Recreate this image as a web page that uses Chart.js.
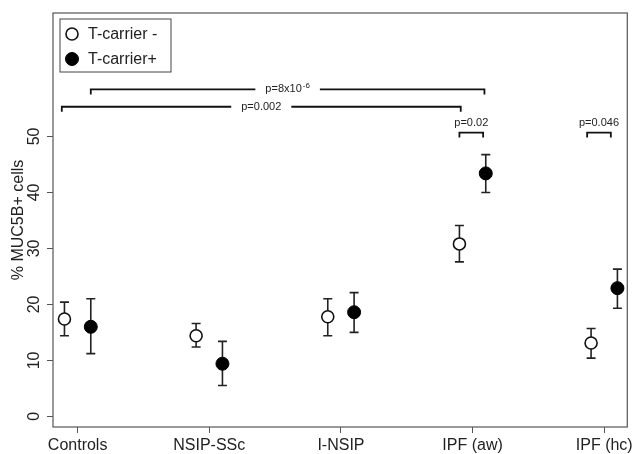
<!DOCTYPE html>
<html><head><meta charset="utf-8">
<script src="https://cdn.jsdelivr.net/npm/chart.js@4.4.0/dist/chart.umd.min.js"></script>
<style>html,body{margin:0;padding:0;background:#fff}canvas{display:block}</style>
</head><body><canvas id="c" width="636" height="454"></canvas>
<script>
const categories = ['Controls','NSIP-SSc','I-NSIP','IPF (aw)','IPF (hc)'];
const seriesNames = ['T-carrier -','T-carrier+'];
const negMean = [17.4, 14.4, 17.8, 30.8, 13.1];
const negLow  = [14.4, 12.4, 14.4, 27.6, 10.4];
const negHigh = [20.4, 16.6, 21.0, 34.1, 15.7];
const posMean = [16.0, 9.4, 18.6, 43.4, 22.9];
const posLow  = [11.2, 5.5, 15.0, 40.0, 19.3];
const posHigh = [21.0, 13.4, 22.1, 46.75, 26.3];
const yTicks = [0, 10, 20, 30, 40, 50];
const yTitle = '% MUC5B+ cells';
const bracketLabels = ['p=8x10', 'p=0.002', 'p=0.02', 'p=0.046'];
const bracketSup = ['-6', '', '', ''];
const bracketFrom = [0.1, -0.12, 2.9, 3.87];
const bracketTo = [3.09, 2.91, 3.08, 4.05];
const bracketY = [58.4, 55.3, 50.7, 50.7];

const FONT = '"Liberation Sans", Arial, sans-serif';
const INK = '#222';
const AXIS = '#555';

const errorBars = {
  id: 'errorBars',
  beforeDatasetsDraw(chart) {
    const ctx = chart.ctx, ys = chart.scales.y;
    ctx.save();
    ctx.strokeStyle = INK; ctx.lineWidth = 1.6;
    chart.data.datasets.forEach((ds, d) => {
      const meta = chart.getDatasetMeta(d);
      meta.data.forEach((pt, i) => {
        const px = pt.x;
        const y1 = ys.getPixelForValue(ds.low[i]);
        const y2 = ys.getPixelForValue(ds.high[i]);
        ctx.beginPath();
        ctx.moveTo(px, y1); ctx.lineTo(px, y2);
        ctx.moveTo(px - 4.5, y1); ctx.lineTo(px + 4.5, y1);
        ctx.moveTo(px - 4.5, y2); ctx.lineTo(px + 4.5, y2);
        ctx.stroke();
      });
    });
    ctx.restore();
  }
};

const decorations = {
  id: 'decorations',
  afterDraw(chart) {
    const ctx = chart.ctx, a = chart.chartArea, xs = chart.scales.x, ys = chart.scales.y;
    ctx.save();
    // frame
    ctx.strokeStyle = AXIS; ctx.lineWidth = 1.2;
    ctx.strokeRect(a.left, a.top, a.right - a.left, a.bottom - a.top);
    // y tick labels (rotated like R)
    ctx.fillStyle = INK;
    ctx.font = '16px ' + FONT;
    ctx.textAlign = 'center'; ctx.textBaseline = 'alphabetic';
    ys.ticks.forEach(t => {
      const py = ys.getPixelForValue(t.value);
      ctx.save();
      ctx.translate(a.left - 14.5, py);
      ctx.rotate(-Math.PI / 2);
      ctx.fillText(String(t.value), 0, 0);
      ctx.restore();
    });
    // legend
    const lx = a.left + 7, ly = a.top + 6;
    ctx.strokeStyle = '#444'; ctx.lineWidth = 1;
    ctx.strokeRect(lx, ly, 111, 53);
    chart.data.datasets.forEach((ds, d) => {
      const cy = ly + 15 + d * 25;
      ctx.beginPath();
      ctx.arc(lx + 12, cy, ds.pointRadius, 0, Math.PI * 2);
      ctx.fillStyle = ds.backgroundColor; ctx.fill();
      ctx.strokeStyle = ds.borderColor; ctx.lineWidth = ds.borderWidth; ctx.stroke();
      ctx.fillStyle = INK; ctx.font = '16px ' + FONT;
      ctx.textAlign = 'left'; ctx.textBaseline = 'middle';
      ctx.fillText(ds.label, lx + 28, cy + 1);
    });
    // significance brackets
    bracketLabels.forEach((lab, k) => {
      const x1 = xs.getPixelForValue(bracketFrom[k]);
      const x2 = xs.getPixelForValue(bracketTo[k]);
      const y = ys.getPixelForValue(bracketY[k]);
      ctx.font = '11px ' + FONT;
      const wMain = ctx.measureText(lab).width;
      ctx.font = '8px ' + FONT;
      const wSup = bracketSup[k] ? ctx.measureText(bracketSup[k]).width + 1 : 0;
      const tw = wMain + wSup;
      const mid = (x1 + x2) / 2;
      ctx.strokeStyle = '#111'; ctx.lineWidth = 1.8;
      let ty;
      ctx.beginPath();
      ctx.moveTo(x1, y + 5); ctx.lineTo(x1, y);
      if (x2 - x1 > 100) {
        const g = tw / 2 + 10;
        ctx.lineTo(mid - g, y);
        ctx.moveTo(mid + g, y);
        ty = y;
      } else {
        ty = y - 10;
      }
      ctx.lineTo(x2, y); ctx.lineTo(x2, y + 5);
      ctx.stroke();
      ctx.fillStyle = INK; ctx.textAlign = 'left'; ctx.textBaseline = 'middle';
      ctx.font = '11px ' + FONT;
      ctx.fillText(lab, mid - tw / 2, ty);
      if (bracketSup[k]) {
        ctx.font = '8px ' + FONT;
        ctx.fillText(bracketSup[k], mid - tw / 2 + wMain + 1, ty - 4);
      }
    });
    ctx.restore();
  }
};

new Chart(document.getElementById('c'), {
  type: 'scatter',
  data: {
    datasets: [
      {
        label: seriesNames[0],
        data: negMean.map((v, i) => ({x: i - 0.1, y: v})),
        low: negLow, high: negHigh,
        pointRadius: 6, pointHoverRadius: 6,
        backgroundColor: '#ffffff', borderColor: '#111', borderWidth: 1.6
      },
      {
        label: seriesNames[1],
        data: posMean.map((v, i) => ({x: i + 0.1, y: v})),
        low: posLow, high: posHigh,
        pointRadius: 6.5, pointHoverRadius: 6.5,
        backgroundColor: '#000000', borderColor: '#000', borderWidth: 1
      }
    ]
  },
  options: {
    responsive: false, animation: false,
    layout: {padding: {left: 0, top: 13, right: 6, bottom: 0}},
    plugins: {legend: {display: false}, tooltip: {enabled: false}},
    scales: {
      x: {
        type: 'linear', min: -0.187, max: 4.175,
        afterBuildTicks: s => { s.ticks = categories.map((c, i) => ({value: i})); },
        afterFit: s => { s.height = 27; },
        grid: {drawOnChartArea: false, drawTicks: true, tickLength: 6, color: AXIS, lineWidth: 1},
        border: {display: false},
        ticks: {callback: v => categories[v], font: {family: FONT, size: 16}, color: INK, padding: 3, maxRotation: 0, autoSkip: false}
      },
      y: {
        min: -1.9, max: 72.05,
        afterBuildTicks: s => { s.ticks = yTicks.map(v => ({value: v})); },
        afterFit: s => { s.width = 53; },
        grid: {drawOnChartArea: false, drawTicks: true, tickLength: 6, color: AXIS, lineWidth: 1},
        border: {display: false},
        ticks: {display: false},
        title: {display: true, text: yTitle, font: {family: FONT, size: 16}, color: INK, padding: {top: 9, bottom: 0}}
      }
    }
  },
  plugins: [errorBars, decorations]
});
</script>
</body></html>
